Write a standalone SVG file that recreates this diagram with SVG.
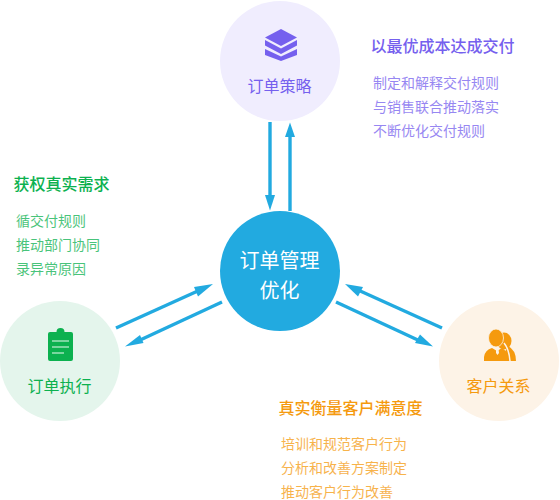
<svg xmlns="http://www.w3.org/2000/svg" width="560" height="500" viewBox="0 0 560 500">
<style>
text{font-family:"Noto Sans CJK SC","Noto Sans",sans-serif;text-anchor:middle}
.s{font-size:14px;text-anchor:start;opacity:.75}
.h{font-size:16px;text-anchor:start;font-weight:500}
.l{font-size:16px}
.a{stroke:#22aae0;stroke-width:3.4;fill:none}
.p{fill:#22aae0}
</style>
<g id="connectors">
<path class="a" d="M270 122V197"/><path class="p" d="M270 210.500L265 195H275z"/>
<path class="a" d="M290 211V135"/><path class="p" d="M290 122.500L295 137H285z"/>
<path class="a" d="M116 328L200 290"/><path class="p" d="M213 284L198 296.500 194 287z"/>
<path class="a" d="M222 302L138 341"/><path class="p" d="M125 346.500L140 335 143.500 343z"/>
<path class="a" d="M442 328L358 290"/><path class="p" d="M345 284L363 287 358 296.500z"/>
<path class="a" d="M336 302L420 341"/><path class="p" d="M433 346.500L415 343 420 334.500z"/>
</g>
<g id="center"><circle cx="280" cy="271" r="60" fill="#22aae0"/>
<text x="279.500" y="268" font-size="20" fill="#fff">订单管理</text><text x="279.500" y="298" font-size="20" fill="#fff">优化</text></g>
<g id="strategy"><circle cx="280" cy="61" r="60" fill="#f0edfe"/>
<path d="M281 29L297 37.500 281 46 265 37.500z" fill="#7560ee"/>
<path d="M265 40L281 48.500 297 40V45.500L281 54 265 45.500z" fill="#7560ee"/>
<path d="M265 49L281 56.500 297 49V55L281 61 265 55z" fill="#7560ee"/>
<text x="279.500" y="92" class="l" fill="#7560ee">订单策略</text></g>
<g id="execution"><circle cx="60" cy="361" r="60" fill="#e4f5ec"/>
<path d="M50 332h6.500a4 4 0 0 1 8 0H71a2 2 0 0 1 2 2v25a2 2 0 0 1-2 2H50a2 2 0 0 1-2-2V334a2 2 0 0 1 2-2z" fill="#0cb14f"/>
<path d="M52 341h17M52 347h17M52 353h12" stroke="#9fe2bb" stroke-width="1.500"/>
<text x="59.500" y="392" class="l" fill="#0cb14f">订单执行</text></g>
<g id="customer"><circle cx="499" cy="361" r="60" fill="#fdf3e7"/>
<ellipse cx="504" cy="341" rx="7.500" ry="8.500" fill="#f59a0e"/>
<path d="M508 346Q516 350 516 361H500z" fill="#f59a0e"/>
<path d="M504 343Q509 349 510 361" fill="none" stroke="#fdf3e7" stroke-width="1.500"/>
<ellipse cx="496" cy="338" rx="7.500" ry="9" fill="#f59a0e" stroke="#fdf3e7" stroke-width="0.800"/>
<path d="M484 361V357Q485 350 492 348L497 351 502 348Q508 351 508 361z" fill="#f59a0e"/>
<path d="M496 349h2.500l.5 4-1.500 2-1.500-2z" fill="#fdf3e7"/>
<text x="498.500" y="392" class="l" fill="#f59a0e">客户关系</text></g>
<g id="strategy-notes" fill="#7560ee">
<text x="370.500" y="52" class="h" fill="#7560ee">以最优成本达成交付</text>
<text x="373" y="88" class="s">制定和解释交付规则</text>
<text x="373" y="112" class="s">与销售联合推动落实</text>
<text x="373" y="136" class="s">不断优化交付规则</text></g>
<g id="execution-notes" fill="#0cb14f">
<text x="13.500" y="190" class="h" fill="#0cb14f">获权真实需求</text>
<text x="16" y="226" class="s">循交付规则</text>
<text x="16" y="250" class="s">推动部门协同</text>
<text x="16" y="274" class="s">录异常原因</text></g>
<g id="customer-notes" fill="#f59a0e">
<text x="278.500" y="414" class="h" fill="#f59a0e">真实衡量客户满意度</text>
<text x="281" y="449" class="s">培训和规范客户行为</text>
<text x="281" y="473" class="s">分析和改善方案制定</text>
<text x="281" y="497" class="s">推动客户行为改善</text></g>
</svg>
